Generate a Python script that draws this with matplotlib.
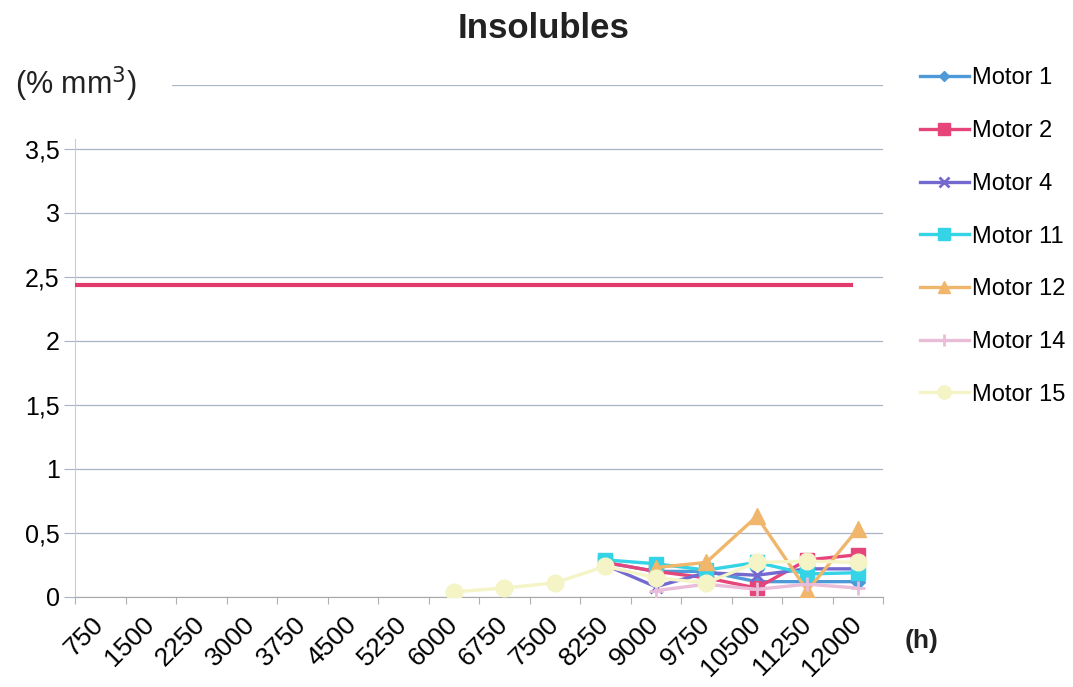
"""Insoluble content per engine against operating hours."""

import matplotlib.pyplot as plt
import numpy as np

plt.rcParams["font.family"] = ["Liberation Sans", "DejaVu Sans"]

nan = np.nan

hours = [750, 1500, 2250, 3000, 3750, 4500, 5250, 6000,
         6750, 7500, 8250, 9000, 9750, 10500, 11250, 12000]

motor_1 = [nan] * 10 + [0.27, 0.20, 0.20, 0.12, 0.12, 0.12]
motor_2 = [nan] * 10 + [0.27, 0.20, 0.15, 0.07, 0.29, 0.33]
motor_4 = [nan] * 10 + [0.25, 0.08, 0.19, 0.17, 0.22, 0.22]
motor_11 = [nan] * 10 + [0.29, 0.26, 0.21, 0.27, 0.18, 0.19]
motor_12 = [nan] * 11 + [0.23, 0.27, 0.63, 0.05, 0.53]
motor_14 = [nan] * 11 + [0.05, 0.10, 0.06, 0.10, 0.07]
motor_15 = [nan] * 7 + [0.04, 0.07, 0.11, 0.24, 0.15, 0.11, 0.27, 0.28, 0.27]

limit_value = 2.44

series = [
    ("Motor 1", motor_1, "#4e9ad8", "D", 7),
    ("Motor 2", motor_2, "#e6457a", "s", 10),
    ("Motor 4", motor_4, "#7469cf", "x", 9),
    ("Motor 11", motor_11, "#35d3e6", "s", 10),
    ("Motor 12", motor_12, "#efb66c", "^", 11),
    ("Motor 14", motor_14, "#e9bcd8", "+", 10),
    ("Motor 15", motor_15, "#f4f4c6", "o", 12),
]

fig = plt.figure(figsize=(10.73, 6.87), dpi=100)
ax = fig.add_axes([75 / 1073, 90 / 687, 808 / 1073, 512 / 687])

x = np.arange(len(hours))
handles = []
for name, values, color, marker, size in series:
    (line,) = ax.plot(x, values, color=color, lw=2.4, marker=marker,
                      markersize=size, markeredgewidth=2 if marker in "x+" else 1,
                      markeredgecolor=color, label=name, zorder=3)
    handles.append(line)

# reference limit drawn across the chart
ax.axhline(limit_value, xmin=0, xmax=0.96, color="#e23a6c", lw=3, zorder=4)

yticks = np.arange(0, 4.01, 0.5)
ax.set_xlim(-0.5, len(hours) - 0.5)
ax.set_ylim(0, 4)
ax.set_yticks(yticks)
ax.set_yticklabels([f"{v:g}".replace(".", ",") if v < 4 else "" for v in yticks])
ax.yaxis.grid(True, color="#a9b3c6", lw=0.9)
ax.set_axisbelow(True)

ax.set_xticks(np.arange(-0.5, len(hours)))
ax.set_xticklabels([])
ax.set_xticks(x, minor=True)
ax.set_xticklabels([str(h) for h in hours], minor=True, rotation=45,
                   ha="right", va="center", rotation_mode="anchor")
ax.tick_params(axis="x", which="major", length=5, color="#b0b0b0", direction="out")
ax.tick_params(axis="x", which="minor", length=0, pad=17, labelsize=19)
ax.tick_params(axis="y", length=8, color="#a9b3c6", pad=3, labelsize=18)

for side in ("top", "right"):
    ax.spines[side].set_visible(False)
ax.spines["left"].set_color("#dcc4cc")
ax.spines["bottom"].set_color("#a8a8a8")

fig.text(0.507, 0.958, "Insolubles", ha="center", va="center",
         fontsize=25, fontweight="bold", color="#222222")
fig.text(0.014, 0.877, "(% mm$^3$)", ha="left", va="center", fontsize=22,
         color="#222222",
         bbox={"boxstyle": "square,pad=1.15", "facecolor": "white", "edgecolor": "none"})
fig.text(0.843, 0.067, "(h)", ha="left", va="center", fontsize=19,
         fontweight="bold", color="#222222")

fig.legend(handles=handles, loc="upper left", bbox_to_anchor=(0.846, 0.919),
           frameon=False, fontsize=17, handlelength=2.1, handletextpad=0.1,
           labelspacing=1.3, borderpad=0, markerscale=0.8)

fig.savefig("out.png", dpi=100)
